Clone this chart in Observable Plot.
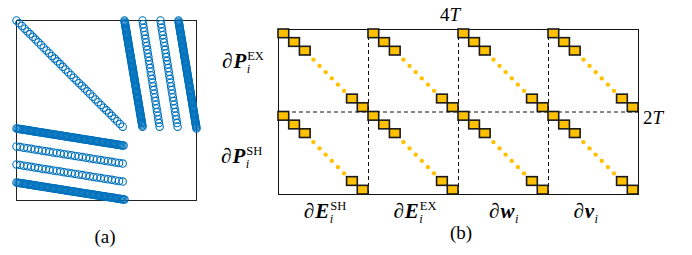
<!DOCTYPE html>
<html><head><meta charset="utf-8">
<script src="https://cdn.jsdelivr.net/npm/d3@7"></script>
<script src="https://cdn.jsdelivr.net/npm/@observablehq/plot@0.6"></script>
<style>
html,body{margin:0;padding:0;background:#fff;}
#fig{position:relative;width:692px;height:255px;overflow:hidden;background:#fff;}
#fig > svg{position:absolute;top:0;}
#fig text{font-family:"Liberation Serif","Times New Roman",serif;}
</style></head><body><div id="fig"></div>
<script>
// ---------- Panel (a): sparsity pattern, segments of nonzeros (matrix units 0..10)
const aSegX0 = [0, 6, 7, 8, 9, 0, 0, 0, 0];
const aSegY0 = [0, 0, 0, 0, 0, 6, 7, 8, 9];
const aSegX1 = [5.9, 7, 7.95, 8.95, 10, 5.95, 5.9, 5.9, 6];
const aSegY1 = [5.9, 5.9, 5.9, 5.9, 6, 6.95, 7.95, 8.95, 9.95];
const aSegCount = [40, 90, 30, 30, 90, 90, 30, 30, 90];

// ---------- Panel (b): block structure 2T x 4T
const blockColSyms = ["E", "E", "w", "v"];
const blockColSups = ["SH", "EX", "", ""];
const blockRowSyms = ["P", "P"];
const blockRowSups = ["EX", "SH"];
const headDiag = [0, 1, 2];      // first diagonal entries of each block
const tailDiag = [2, 1];         // last diagonal entries (counted back from block end)
const ellipsisDots = [0, 1, 2, 3, 4, 5];
const topDimLabel = ["4", "T"];
const sideDimLabel = ["2", "T"];
const panelLabels = ["(a)", "(b)"];

const fig = document.getElementById("fig");

// points of panel (a)
const aPts = [];
aSegCount.forEach((n, s) => {
  for (let k = 0; k < n; k++) {
    const t = k / (n - 1);
    aPts.push({x: aSegX0[s] + t * (aSegX1[s] - aSegX0[s]), y: aSegY0[s] + t * (aSegY1[s] - aSegY0[s])});
  }
});

const plotA = Plot.plot({
  width: 210, height: 255,
  marginLeft: 16, marginRight: 14, marginTop: 20, marginBottom: 55,
  x: {domain: [0, 10], axis: null},
  y: {domain: [0, 10], reverse: true, axis: null},
  style: {background: "transparent", overflow: "visible"},
  marks: [
    Plot.frame({stroke: "#222", strokeWidth: 1}),
    Plot.dot(aPts, {x: "x", y: "y", r: 3.7, stroke: "#0072BD", strokeWidth: 1.1, fill: "none"})
  ]
});
plotA.style.left = "0px";
fig.appendChild(plotA);

// squares and dots of panel (b)
const sqW = 0.119, sqH = 0.105;
const squares = [], dots = [];
blockColSyms.forEach((_, c) => {
  blockRowSyms.forEach((_, r) => {
    for (const k of headDiag) squares.push({x1: c + k * sqW, x2: c + (k + 1) * sqW, y1: r + k * sqH, y2: r + (k + 1) * sqH});
    for (const k of tailDiag) squares.push({x1: c + 1 - k * sqW, x2: c + 1 - (k - 1) * sqW, y1: r + 1 - k * sqH, y2: r + 1 - (k - 1) * sqH});
    for (const k of ellipsisDots) dots.push({x: c + 0.388 + k * 0.068, y: r + 0.365 + k * 0.0757});
  });
});

const plotB = Plot.plot({
  width: 482, height: 255,
  marginLeft: 68, marginRight: 54, marginTop: 29, marginBottom: 61,
  x: {domain: [0, 4], axis: null},
  y: {domain: [0, 2], reverse: true, axis: null},
  style: {background: "transparent", overflow: "visible"},
  marks: [
    Plot.ruleX([1, 2, 3], {stroke: "#111", strokeWidth: 1, strokeDasharray: "4,3"}),
    Plot.ruleY([1], {stroke: "#111", strokeWidth: 1, strokeDasharray: "4,3"}),
    Plot.frame({stroke: "#111", strokeWidth: 1}),
    Plot.dot(dots, {x: "x", y: "y", r: 2.2, fill: "#FFC000", stroke: "none"}),
    Plot.rect(squares, {x1: "x1", x2: "x2", y1: "y1", y2: "y2", fill: "#FFC000", stroke: "#1a1a1a", strokeWidth: 1.6})
  ]
});
plotB.style.left = "210px";
fig.appendChild(plotB);

// ---------- text overlay
const FONT = "Liberation Serif, Times New Roman, serif";
const svg = d3.select(fig).append("svg").attr("width", 692).attr("height", 255)
  .style("left", "0px").style("overflow", "visible").style("pointer-events", "none");

function dimLabel(x, y, parts, anchor) {
  const t = svg.append("text").attr("x", x).attr("y", y).attr("text-anchor", anchor)
    .attr("font-family", FONT).attr("font-size", 19).attr("fill", "#000");
  t.append("tspan").text(parts[0]);
  t.append("tspan").attr("font-style", "italic").text(parts[1]);
}
function mathLabel(x, baseline, sym, sup, anchor) {
  const tmp = svg.append("text").attr("font-family", FONT).attr("font-size", 21);
  tmp.append("tspan").attr("font-style", "italic").text("∂");
  tmp.append("tspan").attr("dx", 1).attr("font-weight", "bold").attr("font-style", "italic").text(sym);
  const w = tmp.node().getComputedTextLength() + 1;
  tmp.remove();
  const tmp2 = svg.append("text").attr("font-family", FONT).attr("font-size", 12.5).text(sup || "i");
  const supW = tmp2.node().getComputedTextLength();
  tmp2.remove();
  const total = w + 1 + supW;
  const x0 = anchor === "middle" ? x - total / 2 : x;
  const t = svg.append("text").attr("x", x0).attr("y", baseline).attr("font-family", FONT)
    .attr("font-size", 21).attr("fill", "#000");
  t.append("tspan").attr("font-style", "italic").text("∂");
  t.append("tspan").attr("dx", 1).attr("font-weight", "bold").attr("font-style", "italic").text(sym);
  if (sup) {
    t.append("tspan").attr("x", x0 + w + 1).attr("y", baseline - 8.5).attr("font-size", 12.5).text(sup);
  }
  t.append("tspan").attr("x", x0 + w + 0.5).attr("y", baseline + 5).attr("font-size", 12.5).attr("font-style", "italic").text("i");
}

dimLabel(450, 21, topDimLabel, "middle");
dimLabel(643, 124, sideDimLabel, "start");
mathLabel(222, 68, blockRowSyms[0], blockRowSups[0], "start");
mathLabel(221, 163, blockRowSyms[1], blockRowSups[1], "start");
const colCenters = [325, 415, 504, 586];
blockColSyms.forEach((s, i) => mathLabel(colCenters[i], 218, s, blockColSups[i], "middle"));
svg.append("text").attr("x", 105).attr("y", 243).attr("text-anchor", "middle")
  .attr("font-family", FONT).attr("font-size", 19).text(panelLabels[0]);
svg.append("text").attr("x", 461).attr("y", 239).attr("text-anchor", "middle")
  .attr("font-family", FONT).attr("font-size", 19).text(panelLabels[1]);
</script></body></html>
